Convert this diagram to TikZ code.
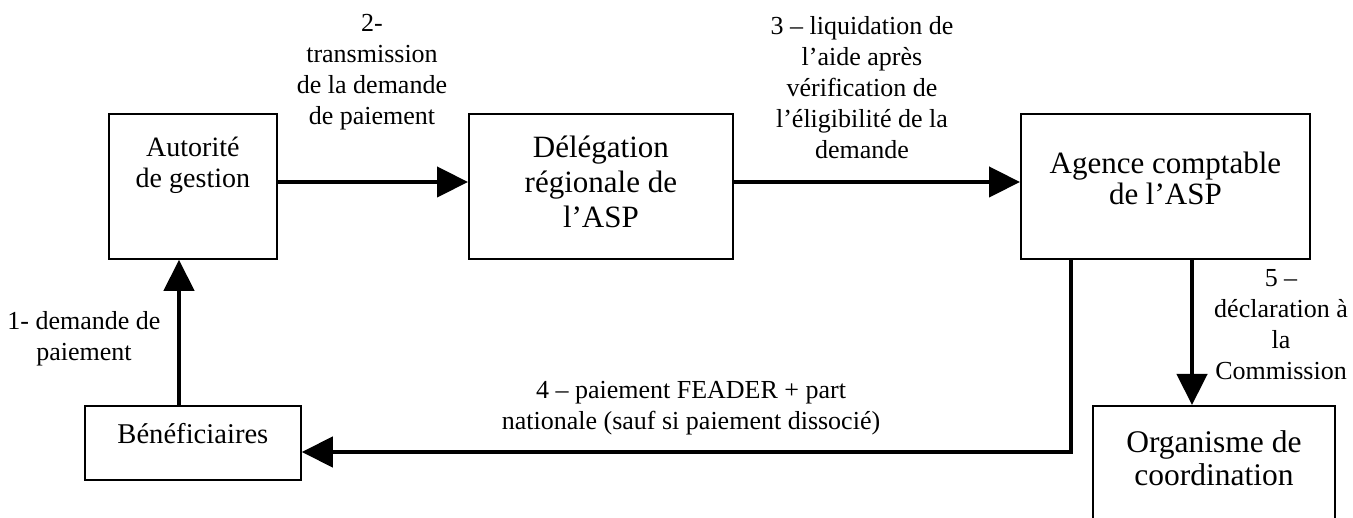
\documentclass[tikz,border=0pt]{standalone}
\usepackage{fontspec}
\setmainfont{Liberation Serif}
\usetikzlibrary{arrows.meta,positioning}

\tikzset{
	box/.style={draw, line width=1.8pt, inner sep=0pt, anchor=north west},
	boxtxt/.style={anchor=north, align=center, inner sep=0pt},
	lbl/.style={anchor=north, align=center, inner sep=0pt, font=\fontsize{26}{31}\selectfont},
	flow/.style={line width=4.5pt, -{Triangle[length=31pt,width=30pt]}}
}

\begin{document}
\begin{tikzpicture}[x=1pt,y=-1pt]
		\useasboundingbox (0,0) rectangle (1353,518);

		% boxes
		\node[box, minimum width=168pt, minimum height=145pt] (autor) at (108,113) {};
		\node[box, minimum width=264pt, minimum height=145pt] (deleg) at (468,113) {};
		\node[box, minimum width=289pt, minimum height=145pt] (agence) at (1020,113) {};
		\node[box, minimum width=216pt, minimum height=74pt] (benef) at (84,405) {};
		\node[box, minimum width=242pt, minimum height=130pt] (orga) at (1092,405) {};

		\node[boxtxt, font=\fontsize{28}{31}\selectfont, below=24pt of autor.north] (autor-t) {Autorité\\de gestion};
		\node[boxtxt, font=\fontsize{31}{35}\selectfont, below=22.6pt of deleg.north] (deleg-t) {Délégation\\régionale de\\l’ASP};
		\node[boxtxt, font=\fontsize{31}{31}\selectfont, below=39pt of agence.north] (agence-t) {Agence comptable\\de l’ASP};
		\node[boxtxt, font=\fontsize{28.6}{31}\selectfont, below=18pt of benef.north] (benef-t) {Bénéficiaires};
		\node[boxtxt, font=\fontsize{31.5}{33}\selectfont, below=25pt of orga.north] (orga-t) {Organisme de\\coordination};

		% arrow labels
		\node[lbl] (l1) at (84,311) {1- demande de\\paiement};
		\node[lbl] (l2) at (372,14) {2-\\transmission\\de la demande\\de paiement};
		\node[lbl] (l3) at (862,16) {3 – liquidation de\\l’aide après\\vérification de\\l’éligibilité de la\\demande};
		\node[lbl] (l4) at (691,381) {4 – paiement FEADER + part\\nationale (sauf si paiement dissocié)};
		\node[lbl] (l5) at (1281,269) {5 –\\déclaration à\\la\\Commission};

		\coordinate (c1) at (179,0);
		\coordinate (c2) at (0,182);
		\coordinate (c4) at (1071,452);
		\coordinate (c5) at (1192,0);

		% arrows
		\draw[flow] (benef.north -| c1) -- (autor.south -| c1);
		\draw[flow] (autor.east |- c2) -- (deleg.west |- c2);
		\draw[flow] (deleg.east |- c2) -- (agence.west |- c2);
		\draw[flow] (agence.south -| c4) -- (c4) -- (benef.east |- c4);
		\draw[flow] (agence.south -| c5) -- (orga.north -| c5);

\end{tikzpicture}
\end{document}
